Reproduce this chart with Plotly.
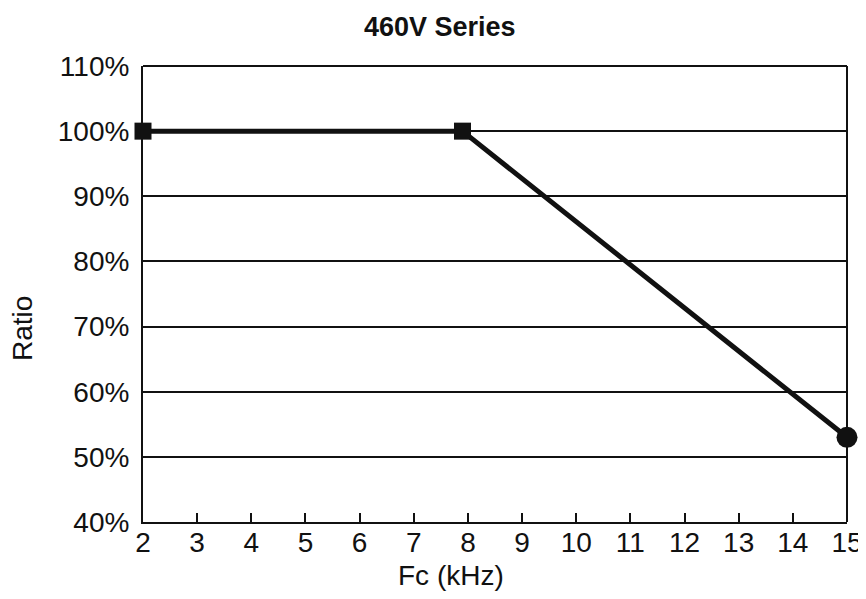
import plotly.graph_objects as go

fc_khz = [2, 7.9, 15]
ratio_pct = [100, 100, 53]
marker_symbols = ["square", "square", "circle"]
x_ticks = list(range(2, 16))
y_ticks = [40, 50, 60, 70, 80, 90, 100, 110]
y_tick_labels = [f"{v}%" for v in y_ticks]

ink = "#111111"
font_family = "Liberation Sans, Arial, sans-serif"

# page has an 8px body margin; figure coordinates = page coordinates - 8
W, H = 866, 583
L, T = 135, 58
R = W - (847 - 8)
B = H - (522 - 8)
pw, ph = W - L - R, H - T - B

fig = go.Figure()
fig.add_trace(go.Scatter(
    x=fc_khz, y=ratio_pct, mode="lines+markers",
    line=dict(color=ink, width=5),
    marker=dict(symbol=marker_symbols, size=[17, 17, 21], color=ink,
                opacity=1, line=dict(width=0)),
    cliponaxis=False, showlegend=False,
))

fig.update_layout(
    width=W, height=H,
    paper_bgcolor="white", plot_bgcolor="white",
    margin=dict(l=L, r=R, t=T, b=B, autoexpand=False),
    font=dict(family=font_family, color=ink),
)
fig.update_xaxes(
    range=[2, 15], tickvals=x_ticks, ticktext=[str(v) for v in x_ticks],
    ticks="inside", ticklen=9, tickwidth=2, tickcolor=ink,
    showline=True, linecolor=ink, linewidth=2, mirror=False,
    showgrid=False, zeroline=False, automargin=False,
    ticklabelstandoff=-6,
    tickfont=dict(size=28, color=ink),
)
fig.update_yaxes(
    range=[40, 110], tickvals=y_ticks, ticktext=y_tick_labels,
    showline=True, linecolor=ink, linewidth=2,
    showgrid=True, gridcolor=ink, gridwidth=1.5, zeroline=False,
    ticks="", ticklabelstandoff=6, automargin=False,
    tickfont=dict(size=28, color=ink),
)
# top and right frame lines
fig.add_shape(type="line", xref="paper", yref="paper", x0=0, x1=1, y0=1, y1=1,
              line=dict(color=ink, width=2))
fig.add_shape(type="line", xref="paper", yref="paper", x0=1, x1=1, y0=0, y1=1,
              line=dict(color=ink, width=2))

def px(xp):
    return (xp - 8 - L) / pw

def py(yp):
    return 1 - (yp - 8 - T) / ph

fig.add_annotation(text="<b>460V Series</b>", xref="paper", yref="paper",
                   x=px(440), y=py(27), xanchor="center", yanchor="middle",
                   showarrow=False, font=dict(size=27, color=ink, family=font_family))
fig.add_annotation(text="Fc (kHz)", xref="paper", yref="paper",
                   x=px(451), y=py(575), xanchor="center", yanchor="middle",
                   showarrow=False, font=dict(size=28, color=ink, family=font_family))
fig.add_annotation(text="Ratio", xref="paper", yref="paper",
                   x=px(22), y=py(329), textangle=-90,
                   xanchor="center", yanchor="middle", showarrow=False,
                   font=dict(size=28, color=ink, family=font_family))

fig.write_html("out.html")
